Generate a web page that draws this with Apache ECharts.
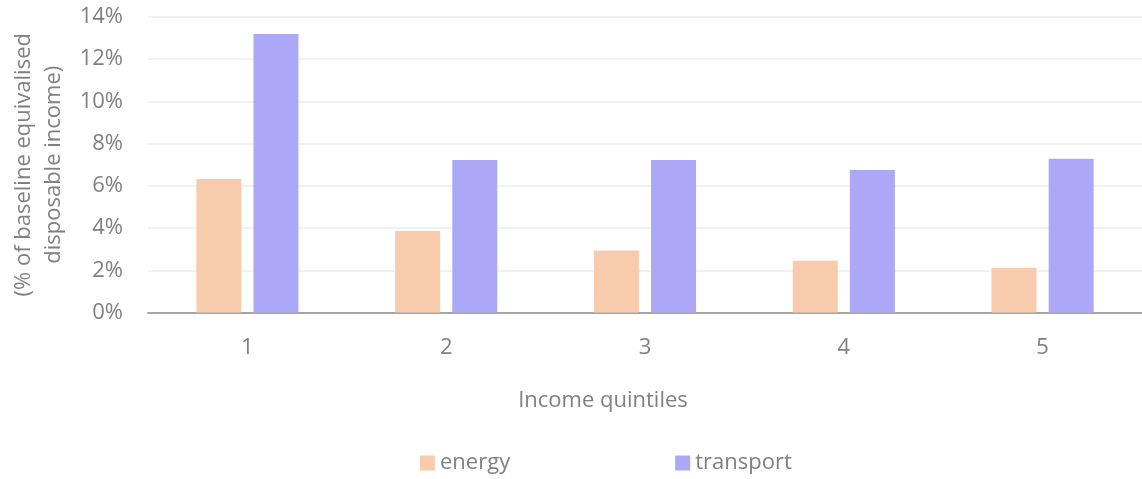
<!DOCTYPE html>
<html>
<head>
<meta charset="utf-8">
<script src="https://cdn.jsdelivr.net/npm/echarts@6/dist/echarts.min.js"></script>
<style>
  html, body { margin: 0; padding: 0; background: #fff; }
  #chart { width: 1142px; height: 479px; }
</style>
</head>
<body>
<div id="chart"></div>
<script>
// data
var quintiles = ['1', '2', '3', '4', '5'];
var energy = [6.33, 3.86, 2.94, 2.45, 2.12];
var transport = [13.19, 7.23, 7.23, 6.75, 7.28];
var yTicks = { min: 0, max: 14, step: 2 };

var fontFam = '"Open Sans", "Noto Sans", sans-serif';
var grey = '#808080';
var fs = 22;

var myChart = echarts.init(document.getElementById('chart'));
var option = {
    animation: false,
    textStyle: { fontFamily: fontFam },
    title: {
        text: 'Income quintiles',
        left: 598,
        top: 385,
        textAlign: 'center',
        textStyle: { color: grey, fontSize: fs, fontWeight: 'normal', fontFamily: fontFam }
    },
    legend: {
        left: 415,
        top: 447,
        itemWidth: 15,
        itemHeight: 15,
        itemGap: 165,
        icon: 'rect',
        textStyle: { color: grey, fontSize: fs, fontFamily: fontFam },
        data: ['energy', 'transport']
    },
    grid: {
        left: 148,
        top: 17,
        width: 1000,
        height: 295.5
    },
    xAxis: {
        type: 'category',
        data: quintiles,
        axisLine: { lineStyle: { color: '#A6A6A6', width: 2 } },
        axisTick: { show: false },
        axisLabel: { color: grey, fontSize: fs, margin: 24, fontFamily: fontFam }
    },
    yAxis: {
        type: 'value',
        min: yTicks.min,
        max: yTicks.max,
        interval: yTicks.step,
        name: '(% of baseline equivalised\ndisposable income)',
        nameLocation: 'middle',
        nameRotate: 90,
        nameGap: 76,
        nameTextStyle: { color: grey, fontSize: fs, lineHeight: 30, fontFamily: fontFam },
        axisLine: { show: false },
        axisTick: { show: false },
        splitLine: { lineStyle: { color: '#EEEEEE', width: 1.5 } },
        axisLabel: {
            color: grey, fontSize: fs, margin: 25, fontFamily: fontFam,
            formatter: function (v) { return v + '%'; }
        }
    },
    series: [{
        name: 'energy',
        type: 'bar',
        barWidth: 45,
        barGap: '27%',
        itemStyle: { color: '#F8CBAD' },
        data: energy
    }, {
        name: 'transport',
        type: 'bar',
        barWidth: 45,
        itemStyle: { color: '#ADA7F8' },
        data: transport
    }]
};
myChart.setOption(option);
</script>
</body>
</html>
